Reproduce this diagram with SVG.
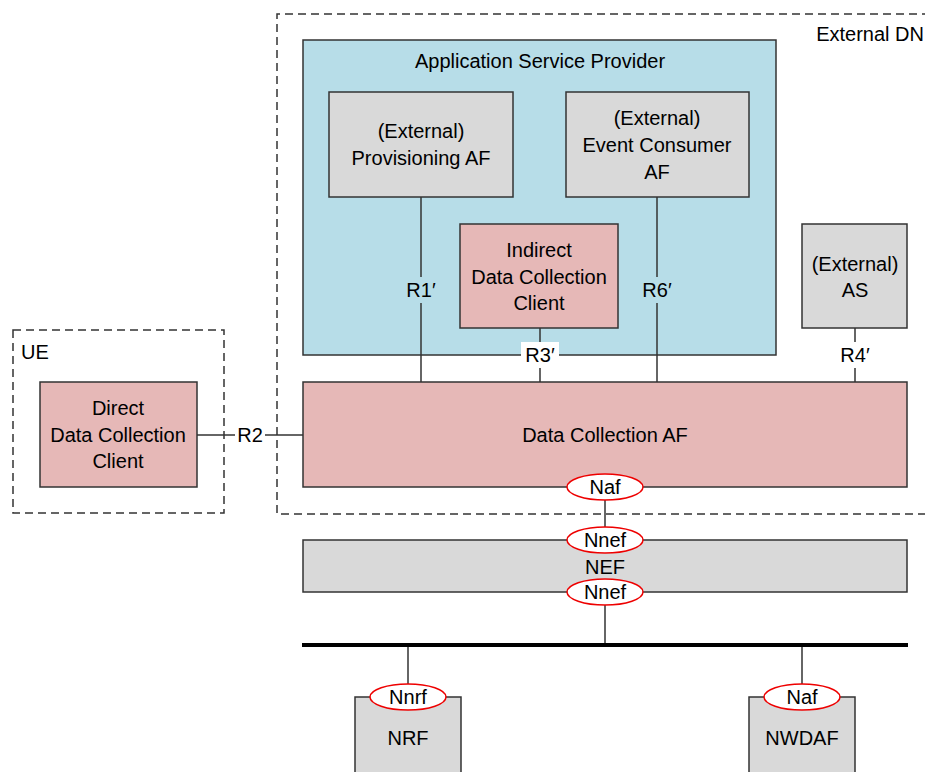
<svg xmlns="http://www.w3.org/2000/svg" width="925" height="772" viewBox="0 0 925 772">
<style>
text{font-family:"Liberation Sans",Arial,sans-serif;font-size:20px;fill:#000;text-anchor:middle}
.box{stroke:#333;stroke-width:1.5}
.pink{fill:#e6b8b7}
.gray{fill:#d9d9d9}
.blue{fill:#b7dde8}
.dash{fill:none;stroke:#333;stroke-width:1.5;stroke-dasharray:8 5}
.ln{stroke:#333;stroke-width:1.5;fill:none}
.ell{fill:#fff;stroke:#e00;stroke-width:1.5}
</style>
<rect width="925" height="772" fill="#fff"/>
<g id="external-dn">
<path class="dash" d="M930 14 H277 V514 H930"/>
<text x="924" y="41" style="text-anchor:end">External DN</text>
</g>
<g id="ue">
<rect class="dash" x="13" y="330" width="211" height="183"/>
<text x="35" y="359">UE</text>
</g>
<g id="asp">
<rect class="box blue" x="303" y="40" width="473" height="315"/>
<text x="540" y="68">Application Service Provider</text>
</g>
<g id="connectors">
<line class="ln" x1="421" y1="197" x2="421" y2="382"/>
<line class="ln" x1="657" y1="197" x2="657" y2="382"/>
<line class="ln" x1="540" y1="328" x2="540" y2="382"/>
<line class="ln" x1="855" y1="328" x2="855" y2="382"/>
<line class="ln" x1="197" y1="435" x2="303" y2="435"/>
<line class="ln" x1="605" y1="487" x2="605" y2="540"/>
<line class="ln" x1="605" y1="592" x2="605" y2="645"/>
<line class="ln" x1="408" y1="645" x2="408" y2="697"/>
<line class="ln" x1="802" y1="645" x2="802" y2="697"/>
<line x1="302" y1="645" x2="908" y2="645" stroke="#000" stroke-width="4"/>
<rect x="403" y="277" width="36" height="26" class="blue"/>
<text x="421" y="297">R1′</text>
<rect x="639" y="277" width="36" height="26" class="blue"/>
<text x="657" y="297">R6′</text>
<rect x="521" y="342" width="38" height="26" fill="#fff"/>
<text x="540" y="362">R3′</text>
<rect x="836" y="342" width="38" height="26" fill="#fff"/>
<text x="855" y="362">R4′</text>
<rect x="235" y="422" width="30" height="26" fill="#fff"/>
<text x="250" y="442">R2</text>
</g>
<g id="provisioning-af">
<rect class="box gray" x="329" y="92" width="184" height="105"/>
<text x="421" y="138">(External)</text>
<text x="421" y="165">Provisioning AF</text>
</g>
<g id="event-consumer-af">
<rect class="box gray" x="566" y="92" width="183" height="105"/>
<text x="657" y="125">(External)</text>
<text x="657" y="152">Event Consumer</text>
<text x="657" y="179">AF</text>
</g>
<g id="indirect-dcc">
<rect class="box pink" x="460" y="224" width="158" height="104"/>
<text x="539" y="257">Indirect</text>
<text x="539" y="284">Data Collection</text>
<text x="539" y="310">Client</text>
</g>
<g id="external-as">
<rect class="box gray" x="802" y="224" width="105" height="104"/>
<text x="855" y="271">(External)</text>
<text x="855" y="297">AS</text>
</g>
<g id="direct-dcc">
<rect class="box pink" x="40" y="382" width="157" height="105"/>
<text x="118" y="415">Direct</text>
<text x="118" y="442">Data Collection</text>
<text x="118" y="468">Client</text>
</g>
<g id="data-collection-af">
<rect class="box pink" x="303" y="382" width="604" height="105"/>
<text x="605" y="442">Data Collection AF</text>
<ellipse class="ell" cx="605" cy="487" rx="38" ry="13"/>
<text x="605" y="494">Naf</text>
</g>
<g id="nef">
<rect class="box gray" x="303" y="540" width="604" height="52"/>
<text x="605" y="574">NEF</text>
<ellipse class="ell" cx="605" cy="540" rx="38" ry="13"/>
<text x="605" y="547">Nnef</text>
<ellipse class="ell" cx="605" cy="592" rx="38" ry="13"/>
<text x="605" y="599">Nnef</text>
</g>
<g id="nrf">
<path class="box gray" d="M355 780 V697 H461 V780"/>
<text x="408" y="745">NRF</text>
<ellipse class="ell" cx="408" cy="697" rx="38" ry="13"/>
<text x="408" y="704">Nnrf</text>
</g>
<g id="nwdaf">
<path class="box gray" d="M749 780 V697 H855 V780"/>
<text x="802" y="745">NWDAF</text>
<ellipse class="ell" cx="802" cy="697" rx="38" ry="13"/>
<text x="802" y="704">Naf</text>
</g>
</svg>
